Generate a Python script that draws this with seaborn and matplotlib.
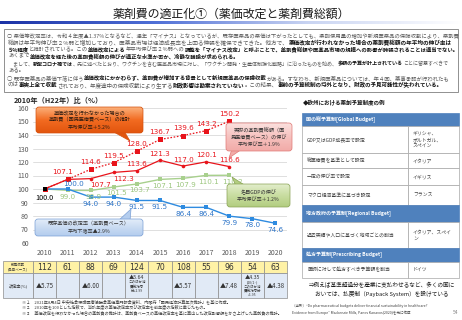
import matplotlib
matplotlib.use("Agg")
import numpy as np
import pandas as pd
import matplotlib.pyplot as plt
import seaborn as sns
from matplotlib.patches import Rectangle, FancyBboxPatch, Polygon
from matplotlib.colors import LinearSegmentedColormap
from matplotlib.transforms import blended_transform_factory

# ---------------- data ----------------
years = list(range(2010, 2021))
est_years = years[:9]
no_revision = [100.0, 107.1, 114.6, 119.5, 128.0, 136.7, 139.6, 143.2, 150.2]
actual_total = [100.0, 107.1, 107.7, 112.3, 113.6, 121.3, 117.0, 120.1, 116.6]
nominal_gdp = [100.0, 99.0, 98.9, 101.5, 103.7, 107.1, 107.9, 110.1, 110.2]
price_index = [100.0, 100.0, 94.0, 94.0, 91.5, 91.5, 86.4, 86.4, 79.9, 78.0, 74.6]
new_listings = [112, 61, 88, 69, 124, 70, 108, 55, 96, 54, 63]
revision_rate = ["▲5.75", "", "▲6.00", "", "▲5.64", "", "▲5.57", "", "▲7.48", "▲4.35", "▲4.38"]
revision_note = ["", "", "", "", "このほか消\n費税対応\n分+2.99", "", "", "", "",
                 "(10/1~)\nこのほか消\n費税対応分\n+1.95", ""]
row_labels = ["新規収載\n(品目ベース)", "改定率(%)"]

title = "薬剤費の適正化①（薬価改定と薬剤費総額）"
chart_title = "2010年（H22年）比（%）"
body_lines = [
    "○ 薬価等改定率は、令和４年度▲1.37%となるなど、連年「マイナス」となっているが、既存医薬品の薬価は下がったとしても、薬剤使用量の増加や新規医薬品の保険収載により、薬剤費",
    "総額は年平均伸び率２%弱と増加しており、医薬品市場は経済成長率を上回る伸張を確保できてきた。他方で、**薬価改定が行われなかった場合の薬剤費総額の年平均の伸び率は**",
    "**５%程度**と推計されている。この**薬価改定による**年平均伸び率２%弱への**調整を「マイナス改定」と呼ぶことで、薬剤費総額や医薬品市場の規模への影響が誇張されることは適当でない。**",
    "あくまで**薬価改定を経た後の薬剤費総額の伸びが適正な水準か否か、冷静な議論が求められる。**",
    "　まして、**新型コロナ禍では**、先に述べたとおり、ワクチンを含む医薬品市場に対し、「ワクチン開発・生産体制強化戦略」に沿ったものを始め、**多額の予算が計上されている**ことに留意すべきで",
    "ある。",
    "○ 既存医薬品の薬価下落に伴う**薬価改定にかかわらず、薬剤費が増加する背景として新規医薬品の保険収載**がある。すなわち、新規医薬品については、年４回、薬事承認が行われたも",
    "のは**事実上全て収載**されており、年度途中の保険収載により生ずる**財政影響は勘案されていない**。この結果、**事前の予算統制の埒外となり、財政の予見可能性が失われている。**",
]
callout_orange = "薬価改定を行わなかった場合の\n薬剤費（国民医療費ベース）の推計\n平均伸び率＋5.2%"
callout_pink = "実際の薬剤費総額（国\n民医療費ベース）の伸び\n平均伸び率＋1.9%"
callout_green = "名目GDPの伸び\n平均伸び率＋1.2%"
callout_blue = "既存薬価の改定率（薬剤費ベース）\n平均下落率▲2.9%"
footnotes = [
    "※１　2021年8月4日 中央社会保険医療協議会薬価専門部会資料、内閣府「国民経済計算年次推計」を基に作成。",
    "※２　2010年を100とした指数で、当該年度の薬価改定率及び改定率を前年度の指数に乗じたもの。",
    "※３　薬価改定を行わなかった場合の薬剤費の推計は、薬剤費ベースの薬価改定率を基に算出した改定影響額をかさ上げした薬剤費の推計。",
]
eu_title = "◆欧州における薬剤予算制度の例"
eu_sections = ["国の総予算制[Global Budget]", "地方政府の予算制[Regional Budget]", "処方予算制[Prescribing Budget]"]
eu_methods = [["GDP又はGDP成長率で設定", "総医療費を基準として設定", "一定の伸び率で設定", "マクロ経済基準に基づき設定"],
              ["過去実績や人口に基づく地域ごとの割当"],
              ["医師に対して処方すべき予算額を割当"]]
eu_countries = [["ギリシャ、\nポルトガル、\nスペイン", "イタリア", "イギリス", "フランス"],
                ["イタリア、スペイ\nン"],
                ["ドイツ"]]
eu_note = ["⇒例えば基準超過分を産業に支払わせるなど、多くの国に", "おいては、払戻制（Payback System）を設けている"]
source_lines = ["（出所）“Do pharmaceutical budgets deliver financial sustainability in healthcare?",
                "Evidence from Europe” Mackenzie Mills, Panos Kanavos(2020)を元に作成"]
page_no = "54"

# ---------------- style ----------------
sns.set_theme(style="white")
plt.rcParams["font.family"] = ["Noto Sans CJK JP", "DejaVu Sans"]

RED = "#E8141B"
GREEN = "#A8D08D"
BLUE = "#2E8BE0"
GRAY_TXT = "#595959"

fig = plt.figure(figsize=(4.62, 3.2), dpi=100)
ax = fig.add_axes([33 / 462, (320 - 243) / 320, 254 / 462, 135 / 320])
ax.set_zorder(1)
ov = fig.add_axes([0, 0, 1, 1])
ov.set_zorder(2)
ov.patch.set_alpha(0)
ov.set_xlim(0, 462)
ov.set_ylim(320, 0)
ov.axis("off")
renderer = fig.canvas.get_renderer()

# ---------------- title + bar ----------------
ov.text(231, 14, title, ha="center", va="center", fontsize=8.6, color="#1a1a1a")
bar_cmap = LinearSegmentedColormap.from_list("bar", ["#1C33A6", "#4F6FD6", "#C9D4F2", "#FFFFFF"])
ov.imshow(np.linspace(0, 1, 256)[None, :], extent=(0, 462, 24, 21), aspect="auto", cmap=bar_cmap, zorder=1)
ov.set_xlim(0, 462)
ov.set_ylim(320, 0)

# ---------------- text box ----------------
ov.add_patch(Rectangle((4, 29), 454, 63, fill=False, ec="#7F7F7F", lw=0.6))


def rich(x, y, s, size, draw=True):
    parts = s.split("**")
    cx = x
    bold = False
    arts = []
    for p in parts:
        if p:
            t = ov.text(cx, y, p, fontsize=size, fontweight="bold" if bold else "normal",
                        color="#111111" if bold else GRAY_TXT, va="center", ha="left")
            bb = t.get_window_extent(renderer)
            cx += bb.width
            arts.append(t)
        bold = not bold
    if not draw:
        for a in arts:
            a.remove()
    return cx - x


line_y = [36, 43, 49.5, 56, 64, 70.5, 78, 85]
line_x = [7, 8, 8, 8, 8, 8, 7, 8]
line_right = [451, 448, 453, 0, 448, 0, 448, 443]
sizes = []
for s, x, r in zip(body_lines, line_x, line_right):
    if r:
        w = rich(x, 0, s, 4.0, draw=False)
        sizes.append(4.0 * (r - x) / w)
    else:
        sizes.append(None)
base = float(np.median([v for v in sizes if v]))
for s, x, y, sz in zip(body_lines, line_x, line_y, sizes):
    rich(x, y, s, sz if sz else base)

# ---------------- chart ----------------
ax.set_xlim(2009.5, 2020.5)
ax.set_ylim(60, 160)
ax.set_yticks(range(60, 161, 10))
ax.set_xticks(years)
ax.yaxis.grid(True, color="#D9D9D9", lw=0.6)
ax.xaxis.grid(False)
for sp in ax.spines.values():
    sp.set_visible(False)
ax.tick_params(length=0, labelsize=5, colors=GRAY_TXT)
ax.tick_params(axis="x", pad=4.5)
ax.tick_params(axis="y", pad=3)

df_nr = pd.DataFrame({"year": est_years, "value": no_revision})
df_act = pd.DataFrame({"year": est_years, "value": actual_total})
df_gdp = pd.DataFrame({"year": est_years, "value": nominal_gdp})
df_pr = pd.DataFrame({"year": years, "value": price_index})

sns.lineplot(data=df_gdp, x="year", y="value", ax=ax, color=GREEN, lw=1.0,
             marker="s", markersize=3.4, markeredgewidth=0)
sns.lineplot(data=df_pr, x="year", y="value", ax=ax, color=BLUE, lw=1.0,
             marker="s", markersize=3.4, markeredgewidth=0)
sns.lineplot(data=df_act, x="year", y="value", ax=ax, color=RED, lw=0.9,
             marker="o", markersize=2.6, markeredgewidth=0)
sns.lineplot(data=df_nr, x="year", y="value", ax=ax, color=RED, lw=0.9, linestyle=(0, (1.3, 1.3)),
             marker="s", markersize=3.6, markeredgewidth=0)
sns.scatterplot(x=[years[0]], y=[price_index[0]], ax=ax, color="black", marker="s", s=11,
                linewidth=0, zorder=6)
ax.set_xlabel("")
ax.set_ylabel("")

LBL = 5.2


def lab(xv, yv, dx, dy, color):
    ax.annotate(f"{yv:.1f}", (xv, yv), xytext=(dx, dy), textcoords="offset points",
                ha="center", va="bottom" if dy > 0 else "top", fontsize=LBL, color=color,
                family=["DejaVu Sans"], zorder=7)


ax.annotate(f"{price_index[0]:.1f}", (years[0], price_index[0]), xytext=(0, -3.5),
            textcoords="offset points", ha="center", va="top", fontsize=LBL, color="black")
for i in range(1, 9):
    dx = -4 if i == 1 else 0
    lab(est_years[i], no_revision[i], dx, 3, RED)
act_off = {2: (7, -2.5), 3: (7, -2.5)}
for i in range(2, 9):
    dx, dy = act_off.get(i, (0, 2.5))
    lab(est_years[i], actual_total[i], dx, dy, RED)
for i in range(1, 9):
    lab(est_years[i], nominal_gdp[i], 2 if i > 1 else 0, -2.5, "#9CC67E")
lab(years[1], price_index[1], 4, 1.5, "#2E75C8")
for i in range(2, 11):
    lab(years[i], price_index[i], 0, -2.5, "#2E75C8")

ov.text(14, 100, chart_title, ha="left", va="center", fontsize=5.2, fontweight="bold", color="#262626")


# ---------------- callouts ----------------
def callout(x0, y0, x1, y1, tail, colors, edge, text, tcolor, size):
    vgrad = np.linspace(0, 1, 64)[:, None]
    cm = LinearSegmentedColormap.from_list("c", colors)
    poly = Polygon(tail, closed=True, fc=colors[-1], ec=edge, lw=0.5, zorder=3)
    ov.add_patch(poly)
    box = FancyBboxPatch((x0, y0), x1 - x0, y1 - y0, boxstyle="round,pad=0,rounding_size=3",
                         fc=colors[len(colors) // 2], ec="none", zorder=3.1)
    ov.add_patch(box)
    im = ov.imshow(vgrad, extent=(x0, x1, y1, y0), aspect="auto", cmap=cm, zorder=3.2)
    im.set_clip_path(box)
    ov.add_patch(FancyBboxPatch((x0, y0), x1 - x0, y1 - y0, boxstyle="round,pad=0,rounding_size=3",
                                fc="none", ec=edge, lw=0.5, zorder=3.3))
    ov.text((x0 + x1) / 2, (y0 + y1) / 2, text, ha="center", va="center", fontsize=size,
            color=tcolor, linespacing=1.45, zorder=3.4)


callout(36, 107, 143, 133, [(112, 131), (124, 131), (130, 141)],
        ["#FBB07A", "#F26B21", "#E2550E"], "#D4520F", callout_orange, "#2a1a10", 3.7)
callout(226, 123, 292, 151, [(232, 149), (242, 149), (229, 158)],
        ["#FBE1DF", "#F6C1BE", "#F2ABA8"], "#E07A77", callout_pink, "#333333", 3.7)
callout(227, 184, 290, 207, [(236, 186), (246, 186), (232, 177)],
        ["#E2EDCB", "#C8DDA0", "#B2CD80"], "#8AA356", callout_green, "#333333", 3.7)
callout(35, 219, 143, 236, [(118, 221), (130, 221), (131, 209)],
        ["#E3EDF9", "#C9DBF2", "#B4CDEE"], "#7BA0D6", callout_blue, "#333333", 3.7)
ov.set_xlim(0, 462)
ov.set_ylim(320, 0)

# ---------------- table under chart ----------------
bt = blended_transform_factory(ax.transData, ov.transData)
YEL = "#FFF2A6"
LBLUE = "#E1EAF6"
EDGE = "#8C8C8C"
r1, r2, r3 = 261, 273, 298
ov.add_patch(Rectangle((3, r1), 30, r2 - r1, fc=YEL, ec=EDGE, lw=0.5))
ov.add_patch(Rectangle((3, r2), 30, r3 - r2, fc=LBLUE, ec=EDGE, lw=0.5))
ov.text(18, (r1 + r2) / 2, row_labels[0], ha="center", va="center", fontsize=2.5, color="#333333", linespacing=1.2)
ov.text(18, (r2 + r3) / 2, row_labels[1], ha="center", va="center", fontsize=3.0, color="#333333")
for i, yr in enumerate(years):
    ov.add_patch(Rectangle((yr - 0.5, r1), 1, r2 - r1, transform=bt, fc=YEL, ec=EDGE, lw=0.5))
    ov.add_patch(Rectangle((yr - 0.5, r2), 1, r3 - r2, transform=bt, fc=LBLUE, ec=EDGE, lw=0.5))
    ov.text(yr, (r1 + r2) / 2 + 0.3, str(new_listings[i]), transform=bt, ha="center", va="center",
            fontsize=5.6, color="#333333", family=["DejaVu Sans"])
    if revision_note[i]:
        ov.text(yr, r2 + 2.2, revision_rate[i], transform=bt, ha="center", va="top",
                fontsize=3.8, color="#333333")
        ov.text(yr, r2 + 6.8, revision_note[i], transform=bt, ha="center", va="top",
                fontsize=2.5, color="#333333", linespacing=1.15)
    elif revision_rate[i]:
        ov.text(yr, (r2 + r3) / 2, revision_rate[i], transform=bt, ha="center", va="center",
                fontsize=4.4, color="#333333")

for k, (s, y) in enumerate(zip(footnotes, [302, 307.5, 313])):
    ov.text(22, y, s, ha="left", va="center", fontsize=3.0, color="#404040")

# ---------------- right panel ----------------
ov.text(303, 103, eu_title, ha="left", va="center", fontsize=4.0, fontweight="bold", color="#1a1a1a")
HDR = "#4F81BD"
hdr_h = [13, 17, 14]
row_h = [[27, 15, 17, 20], [26], [16]]
tx0, tx1, tdiv = 302, 459, 408
y = 113
for s_i, sec in enumerate(eu_sections):
    ov.add_patch(Rectangle((tx0, y), tx1 - tx0, hdr_h[s_i], fc=HDR, ec=HDR, lw=0.5))
    ov.text(tx0 + 4, y + hdr_h[s_i] / 2, sec, ha="left", va="center", fontsize=3.6,
            fontweight="bold", color="white")
    y += hdr_h[s_i]
    for m, c, h in zip(eu_methods[s_i], eu_countries[s_i], row_h[s_i]):
        ov.add_patch(Rectangle((tx0, y), tdiv - tx0, h, fc="white", ec="#A6A6A6", lw=0.5))
        ov.add_patch(Rectangle((tdiv, y), tx1 - tdiv, h, fc="white", ec="#A6A6A6", lw=0.5))
        ov.text(tx0 + 5, y + h / 2, m, ha="left", va="center", fontsize=3.5, color="#404040")
        ov.text(tdiv + 5, y + h / 2, c, ha="left", va="center", fontsize=3.5, color="#404040",
                linespacing=1.3)
        y += h

ov.text(382, 285, eu_note[0], ha="center", va="center", fontsize=4.1, color="#1a1a1a")
ov.text(382, 294, eu_note[1], ha="center", va="center", fontsize=4.1, color="#1a1a1a")
ov.text(292, 306, source_lines[0], ha="left", va="center", fontsize=2.55, color="#404040")
ov.text(292, 313, source_lines[1], ha="left", va="center", fontsize=2.55, color="#404040")
ov.text(458, 313, page_no, ha="right", va="center", fontsize=3.5, color="#7F7F7F")

fig.savefig("out.png", dpi=100)
